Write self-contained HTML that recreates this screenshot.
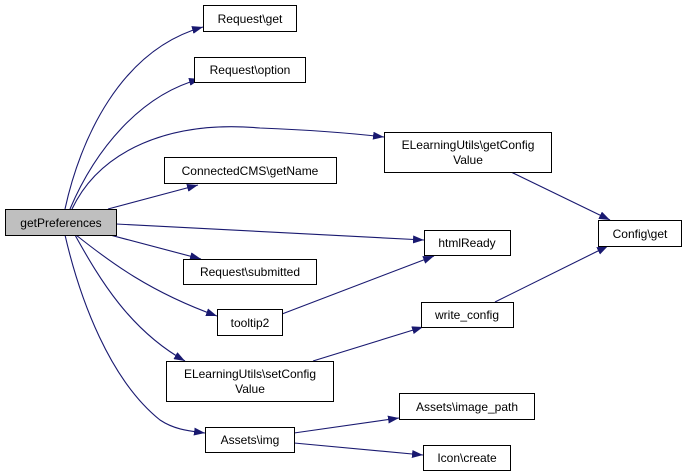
<!DOCTYPE html>
<html><head><meta charset="utf-8"><style>
html,body{margin:0;padding:0;background:#fff;}
svg{display:block;}
text{font-family:"Liberation Sans",Arial,sans-serif;font-size:12px;fill:#000;}
</style></head><body>
<svg width="687" height="476" viewBox="0 0 687 476" xmlns="http://www.w3.org/2000/svg">
<defs>
<marker id="a" markerUnits="userSpaceOnUse" markerWidth="11" markerHeight="8" refX="11" refY="4" orient="auto">
<path d="M0,0 L11,4 L0,8 z" fill="#191970"/>
</marker>
</defs>
<g fill="none" stroke="#191970" stroke-width="1.1" marker-end="url(#a)">
<path d="M65,209 C80,140 120,50 203,27"/>
<path d="M70,209 C95,150 140,95 200,79"/>
<path d="M72,209 C100,150 170,120 260,128 C310,130 350,133 384,137"/>
<path d="M108,209 L198,185"/>
<path d="M116,224 L424,240"/>
<path d="M110,235 L201,259"/>
<path d="M76,235 C110,262 150,292 217,316"/>
<path d="M75,235 C100,280 130,330 185,361"/>
<path d="M65,235 C80,300 110,380 160,420 C175,430 190,431 205,433"/>
<path d="M511,172 L610,220"/>
<path d="M282,314 L434,256"/>
<path d="M313,361 L423,327"/>
<path d="M495,302 L608,246"/>
<path d="M294,433 L399,418"/>
<path d="M294,443 L423,455"/>
</g>
<g stroke="#000" stroke-width="1" fill="#fff">
<rect x="5.5" y="209.5" width="111" height="26" fill="#bfbfbf"/>
<rect x="203.5" y="5.5" width="93" height="26"/>
<rect x="194.5" y="57.5" width="111" height="25"/>
<rect x="164.5" y="157.5" width="172" height="26"/>
<rect x="183.5" y="259.5" width="133" height="25"/>
<rect x="217.5" y="309.5" width="65" height="26"/>
<rect x="166.5" y="361.5" width="167" height="40"/>
<rect x="205.5" y="427.5" width="89" height="25"/>
<rect x="384.5" y="132.5" width="167" height="40"/>
<rect x="424.5" y="230.5" width="86" height="25"/>
<rect x="598.5" y="220.5" width="83" height="26"/>
<rect x="421.5" y="302.5" width="92" height="25"/>
<rect x="399.5" y="393.5" width="135" height="26"/>
<rect x="423.5" y="445.5" width="87" height="25"/>
</g>
<g text-anchor="middle">
<text x="61" y="227">getPreferences</text>
<text x="250" y="23">Request\get</text>
<text x="250" y="74">Request\option</text>
<text x="250" y="175">ConnectedCMS\getName</text>
<text x="250" y="276">Request\submitted</text>
<text x="250" y="327">tooltip2</text>
<text x="250" y="378">ELearningUtils\setConfig</text>
<text x="250" y="393">Value</text>
<text x="250" y="444">Assets\img</text>
<text x="468" y="149">ELearningUtils\getConfig</text>
<text x="468" y="164">Value</text>
<text x="467" y="247">htmlReady</text>
<text x="640" y="238">Config\get</text>
<text x="467" y="319">write_config</text>
<text x="467" y="411">Assets\image_path</text>
<text x="467" y="462">Icon\create</text>
</g>
</svg>
</body></html>
